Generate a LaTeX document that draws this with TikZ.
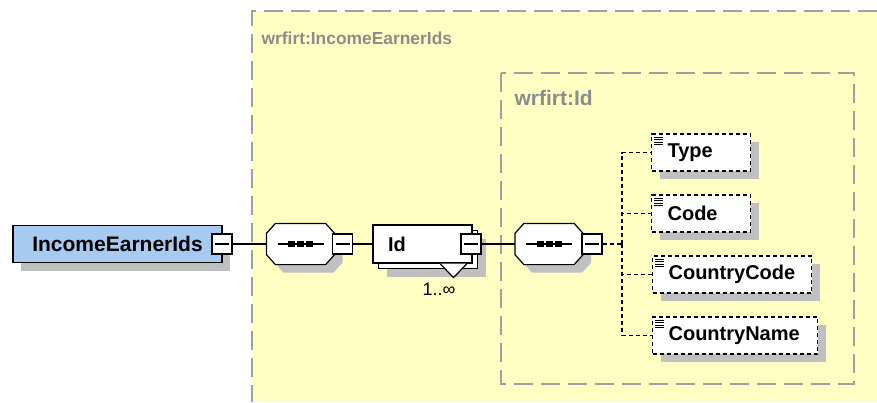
\documentclass[tikz,border=0pt]{standalone}
\usepackage{fontspec}
\setmainfont{Liberation Sans}
\usetikzlibrary{shadows}

\definecolor{bgyellow}{HTML}{FFFFC4}
\definecolor{framegray}{HTML}{A0A0A0}
\definecolor{shadowgray}{HTML}{C0C0C0}
\definecolor{rootblue}{HTML}{A6CAF0}
\definecolor{labelgray}{HTML}{8C8C8C}

% octagon of a sequence compositor, drawn round a seqbox node
\newcommand{\seqglyph}[1]{%
  \draw[fill=white, boxshadow] ([xshift=4.5pt]#1.north west) -- ([xshift=-4.5pt]#1.north east)
    -- ([yshift=-5pt]#1.north east) -- ([yshift=5pt]#1.south east)
    -- ([xshift=-4.5pt]#1.south east) -- ([xshift=4.5pt]#1.south west)
    -- ([yshift=5pt]#1.south west) -- ([yshift=-5pt]#1.north west) -- cycle;
  \draw ([xshift=-11.5pt]#1.center) -- ([xshift=11.5pt]#1.center);
  \foreach \dx in {-4.5,0,4.5}
    \fill ([xshift=\dx pt]#1.center) +(-1.75pt,-1.6pt) rectangle +(1.75pt,1.6pt);
}

\begin{document}
\begin{tikzpicture}[x=0.5pt, y=-0.5pt,
    line width=0.6pt,
    boxshadow/.style={general shadow={fill=shadowgray, draw=none, shadow xshift=4pt, shadow yshift=-4pt}},
    frame/.style={draw=framegray, line width=1pt, dash pattern=on 9.5pt off 4pt},
    spine/.style={dash pattern=on 2pt off 1.5pt},
    rootbox/.style={draw, fill=rootblue, boxshadow, minimum width=104.5pt, minimum height=18.5pt,
      inner sep=0pt, font=\fontsize{10.5}{12}\selectfont\bfseries},
    elembox/.style={draw, fill=white, boxshadow, dash pattern=on 2pt off 1.5pt, text width=#1,
      align=left, inner xsep=8pt, minimum height=18.5pt, font=\fontsize{10}{12}\selectfont\bfseries,
      path picture={
        \foreach \k in {0,1,2,3}
          \draw[solid, line width=0.45pt] ([xshift=1.2pt, yshift=-1.7pt-\k*1.2pt]path picture bounding box.north west) -- ++(4.6pt,0);
      }},
    idbox/.style={draw, fill=white, text width=34.5pt, align=left, inner xsep=7.5pt, minimum height=19pt,
      font=\fontsize{10}{12}\selectfont\bfseries,
      general shadow={fill=shadowgray, draw=none, shadow xshift=6.75pt, shadow yshift=-6.75pt},
      general shadow={fill=white, draw=black, shadow xshift=2.75pt, shadow yshift=-2.75pt}},
    minusbox/.style={draw, fill=white, minimum size=10pt, inner sep=0pt,
      path picture={
        \draw ([xshift=1.5pt]path picture bounding box.west) -- ([xshift=-1.5pt]path picture bounding box.east);
      }},
    seqbox/.style={minimum width=33.5pt, minimum height=20pt, inner sep=0pt}]

\useasboundingbox (0,0) rectangle (877,402);
\fill[white] (0,0) rectangle (877,402);

% type frames
\fill[bgyellow] (252,11) rectangle (877,402);
\draw[frame] (877,11) -- (252,11) -- (252,402);
\draw[frame] (501,73) rectangle (854,384);
\node[anchor=base west, inner sep=0pt, text=labelgray, font=\fontsize{8.7}{10}\selectfont\bfseries] (outerlbl) at (261,44) {wrfirt:IncomeEarnerIds};
\node[anchor=base west, inner sep=0pt, text=labelgray, font=\fontsize{10.5}{12}\selectfont\bfseries] (innerlbl) at (514,105) {wrfirt:Id};

% root element and first sequence
\node[rootbox] (root) at (117.5,244) {IncomeEarnerIds};
\node[minusbox] (rootm) at (222,244) {};
\node[seqbox] (seqA) at (300.5,244) {};
\seqglyph{seqA}
\node[minusbox] (seqAm) at (342.5,244) {};

% Id, 1..unbounded
\node[idbox] (id) at (422.5,244) {Id};
\draw[fill=white] ([xshift=8.75pt]id.south) -- ([xshift=15.5pt, yshift=-7pt]id.south) -- ([xshift=22.25pt]id.south);
\node[minusbox] (idm) at (471,244) {};
\node[font=\fontsize{9}{10}\selectfont] (mult) at (439,289) {1..∞};

% second sequence and children
\node[seqbox] (seqB) at (549,244) {};
\seqglyph{seqB}
\node[minusbox] (seqBm) at (592,244) {};
\coordinate (fork) at (622,244);

\node[elembox=33.5pt, anchor=west] (type) at (651,152.5) {Type};
\node[elembox=33.5pt, anchor=west] (code) at (651,213.5) {Code};
\node[elembox=63.5pt, anchor=west] (ccode) at (652,274.5) {CountryCode};
\node[elembox=66.5pt, anchor=west] (cname) at (652,335.5) {CountryName};

\draw (rootm) -- (seqA);
\draw (seqAm) -- (id);
\draw (idm) -- (seqB);
\draw[spine] (seqBm) -- (fork);
\foreach \e in {type,code,ccode,cname}
  \draw[spine] (fork) |- (\e);
\end{tikzpicture}
\end{document}
